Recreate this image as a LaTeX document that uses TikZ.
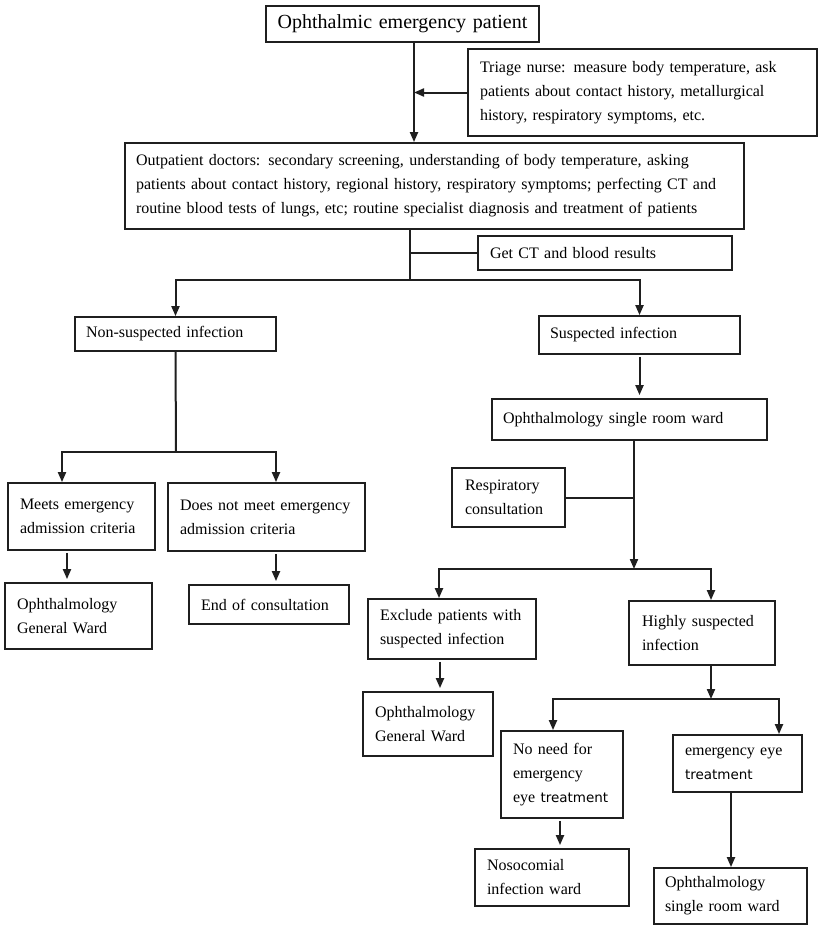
\documentclass[tikz,border=0pt]{standalone}
\usepackage{fontspec}
\setmainfont{Liberation Serif}
\newfontfamily\tsans{DejaVu Sans}
\usetikzlibrary{arrows.meta}
\newcommand{\Lb}[1]{\mbox{#1}}
\begin{document}
\begin{tikzpicture}[x=1pt,y=-1pt,
  bx/.style n args={3}{draw=black!88, line width=1.8pt, minimum width=#1pt,
    minimum height=#2pt, text width=#3pt, inner xsep=0pt, inner ysep=0pt,
    align=left, text=black, font=\fontsize{16}{24}\selectfont},
  ln/.style={draw=black!88, line width=2pt},
  arr/.style={ln, -{Triangle[length=10pt,width=8pt]}},
  sarr/.style={arr, shorten <=2pt, shorten >=3pt}]
\useasboundingbox[fill=white] (0,0) rectangle (829,926);

% boxes
\node[bx={273}{36}{260}, align=center, font=\fontsize{20}{24}\selectfont] (top) at (402.5,24) {Ophthalmic emergency patient};
\node[bx={349}{87}{325}] (triage) at (642.5,92.5) {\Lb{Triage nurse: measure body temperature, ask}\\\Lb{patients about contact history, metallurgical}\\\Lb{history, respiratory symptoms, etc.}};
\node[bx={619}{86}{597}] (outp) at (434.5,186) {\Lb{Outpatient doctors: secondary screening, understanding of body temperature, asking}\\\Lb{patients about contact history, regional history, respiratory symptoms; perfecting CT and}\\\Lb{routine blood tests of lungs, etc; routine specialist diagnosis and treatment of patients}};
\node[bx={254}{34}{230}] (getct) at (605,253) {\Lb{Get CT and blood results}};
\node[bx={201}{34}{179}] (nonsusp) at (175.5,334) {\Lb{Non-suspected infection}};
\node[bx={201}{38}{179}] (susp) at (639.5,335) {\Lb{Suspected infection}};
\node[bx={275}{41}{253}] (osrw) at (629.5,419.5) {\Lb{Ophthalmology single room ward}};
\node[bx={113}{59}{87}] (resp) at (508.5,497.5) {\Lb{Respiratory}\\\Lb{consultation}};
\node[bx={147}{67}{123}] (meets) at (81.5,516.5) {\Lb{Meets emergency}\\\Lb{admission criteria}};
\node[bx={197}{68}{173}] (notmeet) at (266.5,517) {\Lb{Does not meet emergency}\\\Lb{admission criteria}};
\node[bx={147}{66}{123}] (ogw1) at (78.5,616) {\Lb{Ophthalmology}\\\Lb{General Ward}};
\node[bx={160}{39}{136}] (endc) at (269,604.5) {\Lb{End of consultation}};
\node[bx={168}{60}{144}] (excl) at (452,629) {\Lb{Exclude patients with}\\\Lb{suspected infection}};
\node[bx={146}{64}{120}] (highly) at (702,633) {\Lb{Highly suspected}\\\Lb{infection}};
\node[bx={130}{64}{106}] (ogw2) at (428,724) {\Lb{Ophthalmology}\\\Lb{General Ward}};
\node[bx={122}{87}{98}] (noneed) at (562,774.5) {\Lb{No need for}\\\Lb{emergency}\\\Lb{eye {\tsans\fontsize{13.5}{24}\selectfont treatment}}};
\node[bx={129}{57}{105}] (emerg) at (737.5,763.5) {\Lb{emergency eye}\\\Lb{\tsans\fontsize{13.5}{24}\selectfont treatment}};
\node[bx={154}{57}{130}] (nosoc) at (552,877.5) {\Lb{Nosocomial}\\\Lb{infection ward}};
\node[bx={153}{56}{131}] (osrw2) at (730.5,896) {\Lb{Ophthalmology}\\\Lb{single room ward}};

% helper coordinates
\coordinate (xa) at (414,0);
\coordinate (j1) at (410,280);
\coordinate (j2) at (634,569);
\coordinate (xex) at (439,0);
\coordinate (xhi) at (711,0);
\coordinate (j3) at (176,452);
\coordinate (xme) at (62,0);
\coordinate (xnm) at (276,0);
\coordinate (xm2) at (67,0);
\coordinate (xe2) at (440,0);
\coordinate (j4) at (711,699);
\coordinate (xnn) at (553,0);
\coordinate (xem) at (779,0);
\coordinate (xn2) at (560,0);
\coordinate (xe3) at (731,0);

% connectors
\draw[arr] (top.south -| xa) -- (outp.north -| xa);
\draw[arr] (triage.west) -- (triage.west -| xa);
\draw[ln] (outp.south -| j1) -- (j1);
\draw[ln] (getct.west) -- (getct.west -| j1);
\draw[arr] (j1) -| (nonsusp.north);
\draw[arr] (j1) -| (susp.north);
\draw[sarr] (susp.south) -- (susp.south |- osrw.north);
\draw[arr] (osrw.south -| j2) -- (j2);
\draw[ln] (resp.east) -- (resp.east -| j2);
\draw[arr] (j2) -| (xex |- excl.north);
\draw[arr] (j2) -| (xhi |- highly.north);
\draw[ln] (nonsusp.south) -- (j3);
\draw[arr] (j3) -| (xme |- meets.north);
\draw[arr] (j3) -| (xnm |- notmeet.north);
\draw[sarr] (xm2 |- meets.south) -- (xm2 |- ogw1.north);
\draw[sarr] (xnm |- notmeet.south) -- (xnm |- endc.north);
\draw[sarr] (xe2 |- excl.south) -- (xe2 |- ogw2.north);
\draw[arr] (highly.south -| j4) -- (j4);
\draw[arr] (j4) -| (xnn |- noneed.north);
\draw[arr] (j4) -| (xem |- emerg.north);
\draw[sarr] (xn2 |- noneed.south) -- (xn2 |- nosoc.north);
\draw[arr] (xe3 |- emerg.south) -- (xe3 |- osrw2.north);
\end{tikzpicture}
\end{document}
